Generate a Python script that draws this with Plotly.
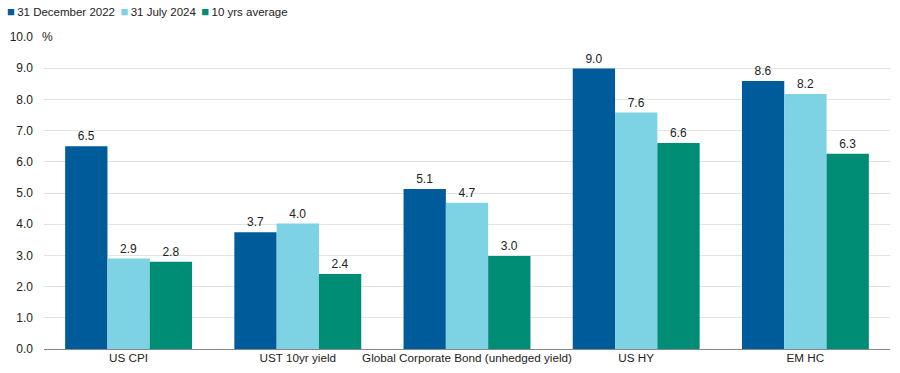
import plotly.graph_objects as go

categories = ["US CPI", "UST 10yr yield", "Global Corporate Bond (unhedged yield)", "US HY", "EM HC"]
series_names = ["31 December 2022", "31 July 2024", "10 yrs average"]
dec_2022 = [6.5, 3.74, 5.13, 8.99, 8.59]
jul_2024 = [2.9, 4.02, 4.69, 7.58, 8.17]
avg_10y = [2.8, 2.4, 2.98, 6.6, 6.26]
colors = ["#005b9a", "#7dd2e3", "#008d76"]
y_ticks = [0, 1, 2, 3, 4, 5, 6, 7, 8, 9, 10]

W, H = 900, 373
ML, MR, MT, MB = 44, 10, 37, 24

fig = go.Figure()
for name, vals, col in zip(series_names, [dec_2022, jul_2024, avg_10y], colors):
    fig.add_trace(go.Bar(
        x=categories, y=vals, name=name, marker=dict(color=col, line=dict(width=0)),
        texttemplate="%{y:.1f}", textposition="outside", cliponaxis=False,
        textfont=dict(size=12, color="#222222"), showlegend=False,
    ))

legend_text = "&#8201; ".join(
    f"<span style='color:{c};font-size:13px'>■</span>&#8201;{n}"
    for n, c in zip(series_names, colors)
)

pw = W - ML - MR
ph = H - MT - MB

fig.update_layout(
    width=W, height=H,
    margin=dict(l=ML, r=MR, t=MT, b=MB, autoexpand=False),
    paper_bgcolor="white", plot_bgcolor="white",
    font=dict(family="Liberation Sans, Arial, sans-serif", size=12, color="#222222"),
    barmode="group", bargap=0.25, bargroupgap=0,
    xaxis=dict(showgrid=False, showline=False, ticks="", tickfont=dict(size=11.7)),
    yaxis=dict(range=[0, 10], tickvals=y_ticks, tickformat=".1f",
               showgrid=True, gridcolor="#e3e3e3", gridwidth=1,
               zeroline=True, zerolinecolor="#888888", zerolinewidth=1,
               ticks="", tickfont=dict(size=12), ticklabelstandoff=10),
    annotations=[
        dict(text="%", x=0, xref="paper", xanchor="left", xshift=-4,
             y=10, yref="y", yanchor="middle", showarrow=False,
             bgcolor="white", borderpad=1, font=dict(size=12)),
        dict(text=legend_text, x=(5 - ML) / pw, xref="paper", xanchor="left",
             y=(H - MB - 11) / ph, yref="paper", yanchor="middle", showarrow=False,
             font=dict(size=11.5, color="#222222")),
    ],
)
fig.write_html("out.html", config={"displayModeBar": False},
               post_script="document.body.style.margin='0';")
